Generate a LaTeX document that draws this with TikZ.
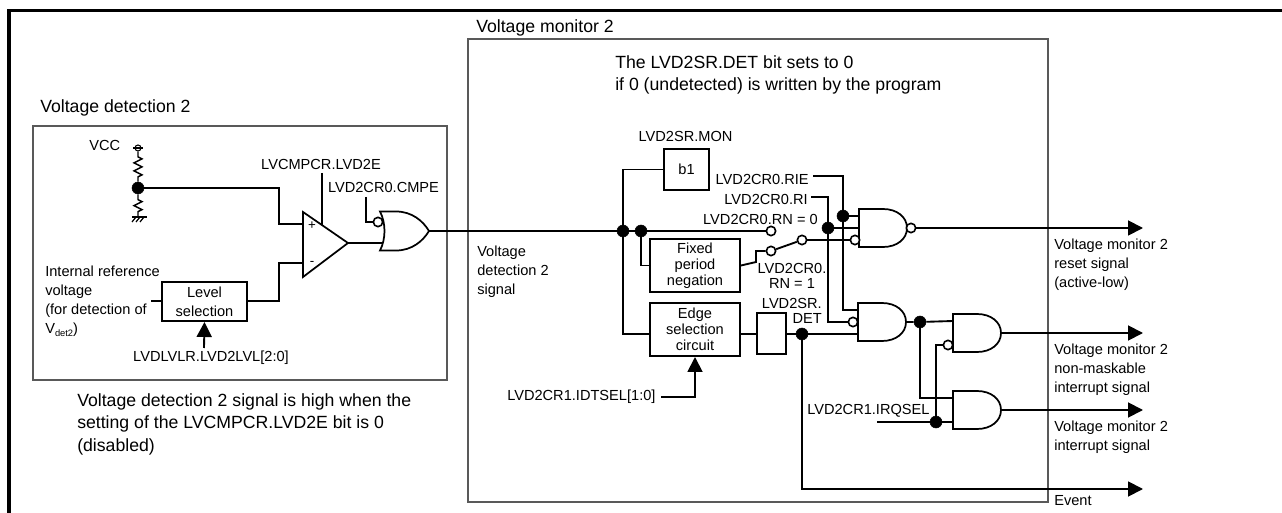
\documentclass[tikz,border=0pt]{standalone}
\usepackage{fontspec}
\setmainfont{Liberation Sans}
\usepackage{tikz}
\usetikzlibrary{arrows.meta,decorations.pathmorphing}

\tikzset{
  wire/.style={draw=black,line width=1.4pt},
  framebox/.style={draw=black!65,line width=0.8pt},
  blockbox/.style={draw=black,line width=1.5pt,fill=white,inner sep=0pt,align=center,font=\lbl},
  junction/.style={circle,fill=black,draw=black,inner sep=0pt,minimum size=9pt},
  bubble/.style={circle,fill=white,draw=black,line width=1.2pt,inner sep=0pt,minimum size=7pt},
  lbl/.style={font=\lbl,inner sep=0pt,align=left},
  headlbl/.style={font=\headlbl,inner sep=0pt,align=left},
  outarrow/.style={wire,-{Triangle[length=11.25pt,width=11.25pt]}},
  pics/andgate/.style={code={
    \draw[line width=1.3pt,fill=white] (0,-19) -- (24,-19) .. controls (38,-19) and (48,-11) .. (48,0)
      .. controls (48,11) and (38,19) .. (24,19) -- (0,19) -- cycle;
    \coordinate (-a) at (0,-12);
    \coordinate (-b) at (0,0);
    \coordinate (-c) at (0,12);
    \coordinate (-o) at (48,0);
  }},
  pics/orgate/.style={code={
    \draw[line width=1.3pt,fill=white] (0,-19.5) -- (16,-19.5) .. controls (32,-19.5) and (43,-10) .. (49,0)
      .. controls (43,10) and (32,19.5) .. (16,19.5) -- (0,19.5)
      .. controls (6,8) and (6,-8) .. (0,-19.5) -- cycle;
    \coordinate (-o) at (49,0);
  }},
  pics/comparator/.style={code={
    \draw[line width=1.3pt,fill=white] (0,-32.5) -- (45,-1.5) -- (0,32.5) -- cycle;
    \node[font=\smalllbl,inner sep=0pt] at (9,-18.5) {+};
    \node[font=\smalllbl,inner sep=0pt] at (9,18.5) {-};
    \coordinate (-p) at (0,-20.5);
    \coordinate (-m) at (0,18.5);
    \coordinate (-o) at (45,-1.5);
    \coordinate (-t) at (19,-19);
  }}
}
\newcommand{\lbl}{\fontsize{10.95}{14.2}\selectfont}
\newcommand{\tightlbl}{\fontsize{10.95}{11.8}\selectfont}
\newcommand{\headlbl}{\fontsize{13.25}{16.9}\selectfont}
\newcommand{\smalllbl}{\fontsize{10}{12}\selectfont}

\begin{document}
\begin{tikzpicture}[x=0.75pt,y=-0.75pt]
  \useasboundingbox (0,0) rectangle (1282,513);

  % outer frame
  \fill[black] (7,9) rectangle (1282,12);
  \fill[black] (7,9) rectangle (11,513);

  % the two blocks
  \draw[framebox] (33,126) rectangle (447,380);
  \draw[framebox] (468,39) rectangle (1048,502);
  \node[headlbl,anchor=west] (detTitle) at (40,108) {Voltage detection 2};
  \node[headlbl,anchor=west] (monTitle) at (476,28) {Voltage monitor 2};
  \node[headlbl,anchor=north west] (monNote) at (615,55) {The LVD2SR.DET bit sets to 0\\if 0 (undetected) is written by the program};
  \node[headlbl,anchor=north west] (detNote) at (77,393) {Voltage detection 2 signal is high when the\\setting of the LVCMPCR.LVD2E bit is 0\\(disabled)};

  % voltage divider
  \node[lbl,anchor=west] (vccLabel) at (89,145) {VCC};
  \node[circle,draw=black,line width=0.8pt,inner sep=0pt,minimum size=4.5pt] (vcc) at (138,148) {};
  \coordinate (gnd) at (138,217);
  \node[junction] (divider) at (138,188) {};
  \draw[line width=0.9pt] (133,148) -- (143,148);
  \draw[line width=1.1pt,decorate,decoration={zigzag,segment length=6pt,amplitude=3pt,pre length=4pt,post length=2pt}] (vcc) -- (divider);
  \draw[line width=1.1pt,decorate,decoration={zigzag,segment length=6pt,amplitude=3pt,pre length=4pt,post length=3pt}] (divider) -- (gnd);
  \draw[line width=1.1pt] (132,217) -- (147,217);
  \foreach \x in {136,140,144} {
    \draw[line width=0.9pt] (\x,217) -- (\x-4,222);
  }

  % comparator and level selection
  \pic (cmp) at (303,244.5) {comparator};
  \pic (orA) at (380,231) {orgate};
  \node[blockbox,minimum width=63.75pt,minimum height=29.25pt] (level) at (204.5,301.5) {Level\\selection};
  \node[lbl,anchor=north west] (refLabel) at (45,266) {Internal reference\\voltage\\(for detection of\\V\raisebox{-2pt}{\fontsize{7}{7}\selectfont det2})};
  \node[lbl] (lvlLabel) at (211,358) {LVDLVLR.LVD2LVL[2:0]};
  \node[lbl] (lvd2eLabel) at (321,164) {LVCMPCR.LVD2E};
  \node[lbl] (cmpeLabel) at (383.5,187) {LVD2CR0.CMPE};
  \coordinate (refIn) at (151,301);
  \coordinate (lvlIn) at (204,348);
  \coordinate (lvd2eTop) at (322,173);
  \coordinate (cmpeTop) at (366,197);
  \node[bubble] (cmpeNot) at (378,222) {};

  \draw[wire] (divider) -- (279,188) |- (cmp-p);
  \draw[wire] (level.east |- refIn) -- (279,301) |- (cmp-m);
  \draw[wire] (refIn) -- (level.west |- refIn);
  \draw[outarrow,shorten >=0pt] (lvlIn) -- (level.south);
  \draw[line width=1pt] (lvd2eTop) -- (cmp-t);
  \draw[wire] (cmpeTop) |- (cmpeNot);
  \draw[wire] (cmp-o) -- (383,243);

  % monitor: main signal
  \node[lbl,anchor=north west] (sigLabel) at (477,245.5) {Voltage\\detection 2\\signal};
  \node[junction] (mainA) at (623,231) {};
  \node[junction] (mainB) at (641,231) {};
  \node[bubble] (rnZero) at (771,231) {};
  \node[bubble] (rnOne) at (771,251) {};
  \node[bubble] (swOut) at (802,240) {};
  \draw[wire] (orA-o) -- (mainA) -- (mainB) -- (rnZero);

  % monitor: blocks
  \node[blockbox,font=\tightlbl,minimum width=33.75pt,minimum height=30.75pt] (bOne) at (686.5,169.5) {b1};
  \node[blockbox,font=\tightlbl,minimum width=67.5pt,minimum height=39.75pt] (fixedNeg) at (695,265.5) {Fixed\\period\\negation};
  \node[blockbox,font=\tightlbl,minimum width=67.5pt,minimum height=39.75pt] (edgeSel) at (695,329.5) {Edge\\selection\\circuit};
  \node[blockbox,minimum width=21.75pt,minimum height=30.75pt] (detBit) at (771.5,333.5) {};
  \node[junction] (detOut) at (802,334) {};

  \node[lbl] (monLabel) at (685.5,136) {LVD2SR.MON};
  \node[lbl,anchor=east] (rieLabel) at (809,179) {LVD2CR0.RIE};
  \node[lbl,anchor=east] (riLabel) at (808,199) {LVD2CR0.RI};
  \node[lbl,anchor=east] (rnZeroLabel) at (818,219) {LVD2CR0.RN = 0};
  \node[lbl,font=\tightlbl,align=center] (rnOneLabel) at (792,276) {LVD2CR0.\\RN = 1};
  \node[lbl,font=\tightlbl,align=right,anchor=east] (detLabel) at (822,311) {LVD2SR.\\DET};
  \node[lbl,anchor=west] (idtLabel) at (507,397) {LVD2CR1.IDTSEL[1:0]};
  \node[lbl,anchor=west] (irqLabel) at (807,411) {LVD2CR1.IRQSEL};

  % monitor: gates
  \pic (nandA) at (859,228) {andgate};
  \pic (andB) at (858,322) {andgate};
  \pic (andC) at (953,333) {andgate};
  \pic (andD) at (953,410) {andgate};
  \node[bubble] (nandOut) at (911,228) {};
  \node[bubble] (nandNot) at (855,240) {};
  \node[bubble] (andBNot) at (853,322) {};
  \node[bubble] (andCNot) at (948,345) {};
  \node[junction] (rieDot) at (843,216) {};
  \node[junction] (riDot) at (828,228) {};
  \node[junction] (andBOut) at (920,322) {};
  \node[junction] (irqDot) at (936,422) {};
  \coordinate (rieStart) at (813,176);
  \coordinate (riStart) at (811,197);
  \coordinate (irqStart) at (877,422);
  \coordinate (idtStart) at (661,397);
  \coordinate (resetEnd) at (1143,228);
  \coordinate (nmiEnd) at (1143,333);
  \coordinate (irqEnd) at (1143,410);
  \coordinate (eventEnd) at (1143,489);

  % monitor: wiring
  \draw[wire] (mainA) |- (bOne.west);
  \draw[wire] (mainA) |- (edgeSel.west |- detOut);
  \draw[wire] (mainB) |- (fixedNeg.west);
  \draw[wire] (fixedNeg.east) -- (756,262) |- (rnOne);
  \draw[wire] (rnOne) -- (swOut);
  \draw[wire] (swOut) -- (nandNot);
  \draw[wire] (edgeSel.east |- detOut) -- (detBit.west |- detOut);
  \draw[wire] (detBit.east |- detOut) -- (detOut) -- (andB-c);
  \draw[wire] (rieStart) -| (rieDot) |- (nandA-a);
  \draw[wire] (rieDot) |- (andB-a);
  \draw[wire] (riStart) -| (riDot) -- (nandA-b);
  \draw[wire] (riDot) |- (andBNot);
  \draw[wire] (andB-o) -- (andBOut) -- (andC-a);
  \draw[wire] (andBOut) |- (andD-a);
  \draw[wire] (irqStart) -- (irqDot) -- (andD-c);
  \draw[wire] (irqDot) |- (andCNot);
  \draw[outarrow] (idtStart) -| (edgeSel.south);

  % outputs
  \draw[outarrow] (nandOut) -- (resetEnd);
  \draw[outarrow] (andC-o) -- (nmiEnd);
  \draw[outarrow] (andD-o) -- (irqEnd);
  \draw[outarrow] (detOut) |- (eventEnd);
  \node[lbl,anchor=north west] (resetLabel) at (1054,239) {Voltage monitor 2\\reset signal\\(active-low)};
  \node[lbl,anchor=north west] (nmiLabel) at (1054,344) {Voltage monitor 2\\non-maskable\\interrupt signal};
  \node[lbl,anchor=north west] (irqOutLabel) at (1054,421) {Voltage monitor 2\\interrupt signal};
  \node[lbl,anchor=west] (eventLabel) at (1054,501) {Event};
\end{tikzpicture}
\end{document}
